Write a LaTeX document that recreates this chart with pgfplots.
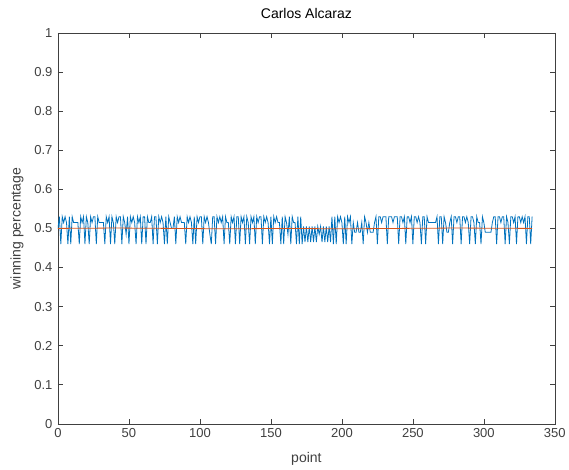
\documentclass[border=0pt]{standalone}
\usepackage{pgfplots}
\pgfplotsset{compat=1.18}
\usepackage{fontspec}
\setmainfont{Liberation Sans}
\definecolor{mblue}{RGB}{0,114,189}
\definecolor{morange}{RGB}{217,83,25}
\definecolor{maxis}{RGB}{64,64,64}

\begin{document}
\begin{tikzpicture}
\begin{axis}[
    scale only axis,
    width=497pt, height=391pt,
    xmin=0, xmax=350, ymin=0, ymax=1,
    xtick={0,50,...,350},
    ytick={0,0.1,...,1},
    tick align=inside,
    major tick length=5pt,
    xtick pos=both, ytick pos=both,
    axis line style={maxis, line width=0.6pt},
    tick style={maxis, line width=0.6pt},
    /pgf/number format/assume math mode=true,
    ticklabel style={font=\fontsize{13}{15}\selectfont, text=maxis},
    yticklabel style={xshift=-2pt},
    xticklabel style={yshift=-1pt},
    title={Carlos Alcaraz},
    title style={font=\fontsize{14}{16}\selectfont, text=black, yshift=5pt},
    xlabel={point},
    ylabel={winning percentage},
    label style={font=\fontsize{14}{16}\selectfont, text=maxis},
    xlabel style={yshift=-8pt},
    ylabel style={yshift=4pt},
  ]
  \coordinate (bl) at (rel axis cs:0,0);
  \coordinate (tr) at (rel axis cs:1,1);

  % win probability per point
  \addplot[mblue, line width=0.8pt, mark=none] coordinates {
    (0,0.50)(1,0.53)(2,0.46)(3,0.53)(4,0.515)(5,0.53)(6,0.515)(7,0.46)(8,0.53)(9,0.46)
    (10,0.53)(11,0.515)(12,0.515)(13,0.515)(14,0.515)(15,0.46)(16,0.53)(17,0.515)(18,0.53)(19,0.46)
    (20,0.53)(21,0.515)(22,0.46)(23,0.53)(24,0.515)(25,0.53)(26,0.53)(27,0.46)(28,0.53)(29,0.515)
    (30,0.515)(31,0.515)(32,0.515)(33,0.46)(34,0.53)(35,0.515)(36,0.53)(37,0.46)(38,0.53)(39,0.515)
    (40,0.46)(41,0.53)(42,0.515)(43,0.53)(44,0.53)(45,0.46)(46,0.53)(47,0.515)(48,0.485)(49,0.53)
    (50,0.46)(51,0.53)(52,0.515)(53,0.53)(54,0.515)(55,0.46)(56,0.53)(57,0.515)(58,0.53)(59,0.46)
    (60,0.53)(61,0.53)(62,0.46)(63,0.53)(64,0.515)(65,0.515)(66,0.53)(67,0.46)(68,0.53)(69,0.53)
    (70,0.46)(71,0.53)(72,0.515)(73,0.53)(74,0.515)(75,0.46)(76,0.53)(77,0.46)(78,0.53)(79,0.515)
    (80,0.50)(81,0.50)(82,0.53)(83,0.46)(84,0.53)(85,0.515)(86,0.53)(87,0.515)(88,0.515)(89,0.515)
    (90,0.46)(91,0.53)(92,0.515)(93,0.53)(94,0.515)(95,0.46)(96,0.53)(97,0.46)(98,0.53)(99,0.515)
    (100,0.53)(101,0.53)(102,0.46)(103,0.53)(104,0.515)(105,0.53)(106,0.515)(107,0.485)(108,0.46)(109,0.53)
    (110,0.53)(111,0.46)(112,0.53)(113,0.515)(114,0.53)(115,0.515)(116,0.53)(117,0.46)(118,0.53)(119,0.515)
    (120,0.515)(121,0.46)(122,0.53)(123,0.515)(124,0.53)(125,0.46)(126,0.53)(127,0.53)(128,0.46)(129,0.53)
    (130,0.515)(131,0.53)(132,0.46)(133,0.53)(134,0.515)(135,0.46)(136,0.53)(137,0.515)(138,0.53)(139,0.46)
    (140,0.53)(141,0.515)(142,0.53)(143,0.53)(144,0.46)(145,0.53)(146,0.515)(147,0.53)(148,0.515)(149,0.46)
    (150,0.53)(151,0.46)(152,0.53)(153,0.515)(154,0.53)(155,0.515)(156,0.515)(157,0.46)(158,0.53)(159,0.46)
    (160,0.53)(161,0.515)(162,0.485)(163,0.53)(164,0.46)(165,0.53)(166,0.515)(167,0.515)(168,0.46)(169,0.53)
    (170,0.46)(171,0.53)(172,0.46)(173,0.505)(174,0.465)(175,0.505)(176,0.465)(177,0.505)(178,0.465)(179,0.505)
    (180,0.465)(181,0.505)(182,0.465)(183,0.505)(184,0.485)(185,0.505)(186,0.465)(187,0.505)(188,0.465)(189,0.505)
    (190,0.465)(191,0.505)(192,0.465)(193,0.53)(194,0.46)(195,0.53)(196,0.46)(197,0.53)(198,0.515)(199,0.53)
    (200,0.515)(201,0.46)(202,0.53)(203,0.46)(204,0.53)(205,0.515)(206,0.53)(207,0.46)(208,0.515)(209,0.49)
    (210,0.49)(211,0.515)(212,0.49)(213,0.49)(214,0.515)(215,0.46)(216,0.53)(217,0.515)(218,0.49)(219,0.515)
    (220,0.49)(221,0.49)(222,0.49)(223,0.515)(224,0.53)(225,0.46)(226,0.53)(227,0.53)(228,0.515)(229,0.53)
    (230,0.53)(231,0.53)(232,0.46)(233,0.53)(234,0.53)(235,0.53)(236,0.515)(237,0.53)(238,0.53)(239,0.53)
    (240,0.46)(241,0.53)(242,0.53)(243,0.515)(244,0.53)(245,0.46)(246,0.53)(247,0.53)(248,0.515)(249,0.53)
    (250,0.46)(251,0.53)(252,0.53)(253,0.515)(254,0.53)(255,0.515)(256,0.46)(257,0.53)(258,0.53)(259,0.46)
    (260,0.53)(261,0.515)(262,0.515)(263,0.515)(264,0.515)(265,0.515)(266,0.515)(267,0.53)(268,0.46)(269,0.53)
    (270,0.53)(271,0.46)(272,0.53)(273,0.515)(274,0.49)(275,0.49)(276,0.515)(277,0.53)(278,0.46)(279,0.53)
    (280,0.53)(281,0.515)(282,0.53)(283,0.53)(284,0.46)(285,0.53)(286,0.53)(287,0.515)(288,0.53)(289,0.515)
    (290,0.46)(291,0.53)(292,0.53)(293,0.515)(294,0.46)(295,0.53)(296,0.515)(297,0.515)(298,0.46)(299,0.53)
    (300,0.515)(301,0.49)(302,0.49)(303,0.49)(304,0.49)(305,0.49)(306,0.515)(307,0.53)(308,0.53)(309,0.46)
    (310,0.53)(311,0.53)(312,0.515)(313,0.53)(314,0.53)(315,0.46)(316,0.53)(317,0.515)(318,0.46)(319,0.53)
    (320,0.53)(321,0.515)(322,0.53)(323,0.46)(324,0.53)(325,0.53)(326,0.515)(327,0.53)(328,0.515)(329,0.53)
    (330,0.46)(331,0.53)(332,0.53)(333,0.46)(334,0.53)
  };
  % reference level
  \addplot[morange, line width=0.8pt, mark=none] coordinates {
    (0,0.500)(40,0.501)(80,0.500)(120,0.499)(160,0.500)(200,0.499)(240,0.500)(280,0.501)(334,0.500)
  };
\end{axis}
\useasboundingbox ([shift={(-58pt,-46pt)}]bl) rectangle ([shift={(14pt,33pt)}]tr);
\end{tikzpicture}
\end{document}
